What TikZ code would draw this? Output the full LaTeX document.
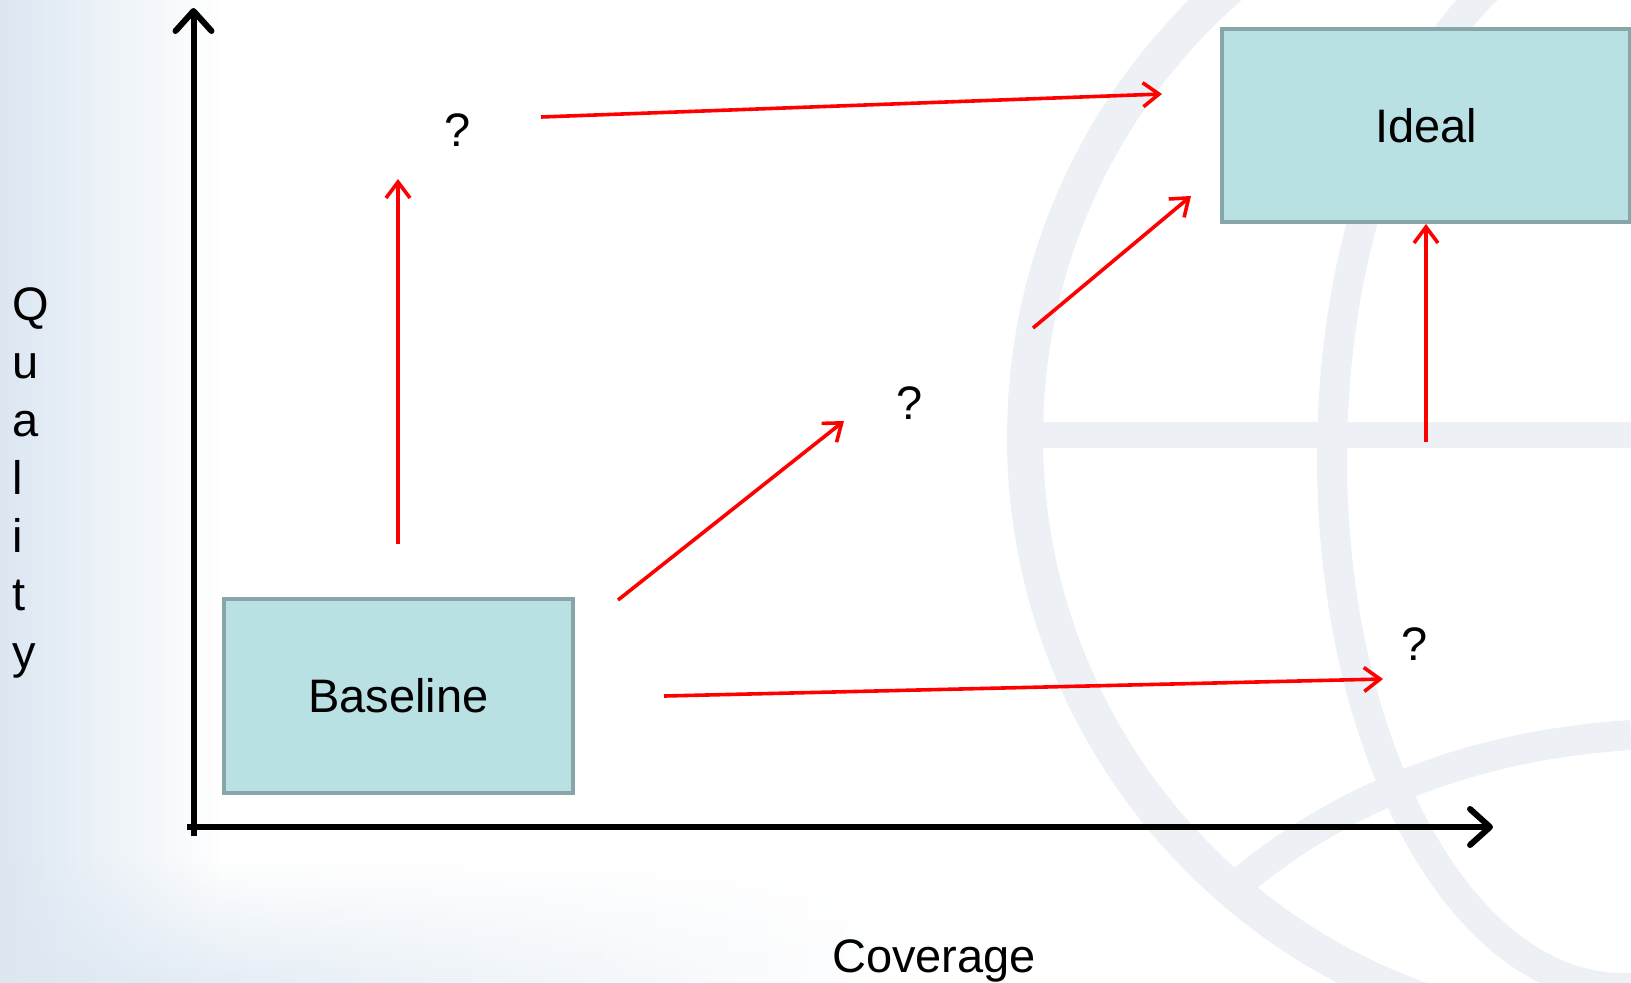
\documentclass[tikz,border=0pt]{standalone}
\usepackage{fontspec}
\setmainfont{Liberation Sans}
\usetikzlibrary{arrows.meta,fadings}
\definecolor{boxfill}{HTML}{B9E0E3}
\definecolor{boxline}{HTML}{88A5A8}
\definecolor{globe}{HTML}{EDF1F5}
\definecolor{tint}{HTML}{DCE7F2}
\definecolor{redline}{HTML}{FF0000}
\tikzset{
  txt/.style={font=\fontsize{23.5}{28}\selectfont, inner sep=0pt},
  box/.style={draw=boxline, fill=boxfill, line width=2pt, inner sep=0pt,
              font=\fontsize{23.5}{28}\selectfont},
  axis/.style={line width=3pt, -{Straight Barb[length=10pt,width=18pt,round]}},
  redarrow/.style={draw=redline, line width=1.8pt, -{Straight Barb[length=8pt,width=12pt]}},
  globeband/.style={draw=globe}
}
\begin{document}
\begin{tikzpicture}[x=0.5pt,y=-0.5pt]
\useasboundingbox (0,0) rectangle (1631,982);
\begin{scope}
\clip (0,0) rectangle (1631,982);
\fill[white] (0,0) rectangle (1631,982);
\fill[tint, path fading=east] (0,0) rectangle (220,982);
\shade[left color=tint, right color=white, path fading=north] (0,860) rectangle (900,982);
% globe watermark
\draw[globeband, line width=18pt] (1623,437) circle [radius=598];
\draw[globeband, line width=15pt] (1623,458) ellipse [x radius=291, y radius=530];
\draw[globeband, line width=13pt] (1030,435) -- (1631,435);
\draw[globeband, line width=15pt] (1220,900) .. controls (1330,800) and (1470,745) .. (1631,735);
\end{scope}

% axes
\coordinate (origin) at (193.5,836);
\coordinate (ytop) at (193.5,8);
\coordinate (xstart) at (187,827);
\coordinate (xend) at (1493,827);
\draw[axis] (origin) -- (ytop);
\draw[axis] (xstart) -- (xend);

% boxes
\node[box, minimum width=174.5pt, minimum height=97pt] (baseline) at (398.5,696) {Baseline};
\node[box, minimum width=204pt, minimum height=96.5pt] (ideal) at (1426,125.5) {Ideal};

% labels
\node[txt, anchor=base] (qa) at (458,146) {?};
\node[txt, anchor=base] (qb) at (910,419) {?};
\node[txt, anchor=base] (qc) at (1415,660) {?};
\node[txt, anchor=base] (coverage) at (934,972) {Coverage};
\foreach \l/\i in {Q/0,u/1,a/2,l/3,i/4,t/5,y/6}{
  \node[txt, anchor=base west] (quality\i) at (12,{320+58*\i}) {\l};
}

% red arrows
\coordinate (a1s) at (398,544);
\coordinate (a1e) at (398,179);
\coordinate (a2s) at (541,117);
\coordinate (a2e) at (1162,94);
\coordinate (a3s) at (618,600);
\coordinate (a3e) at (844,421);
\coordinate (a4s) at (1033,328);
\coordinate (a4e) at (1191,196);
\coordinate (a5s) at (1426,442);
\coordinate (a6s) at (664,696);
\coordinate (a6e) at (1383,679);
\draw[redarrow] (a1s) -- (a1e);
\draw[redarrow] (a2s) -- (a2e);
\draw[redarrow] (a3s) -- (a3e);
\draw[redarrow] (a4s) -- (a4e);
\draw[redarrow] (a5s) -- (ideal.south);
\draw[redarrow] (a6s) -- (a6e);
\end{tikzpicture}
\end{document}
